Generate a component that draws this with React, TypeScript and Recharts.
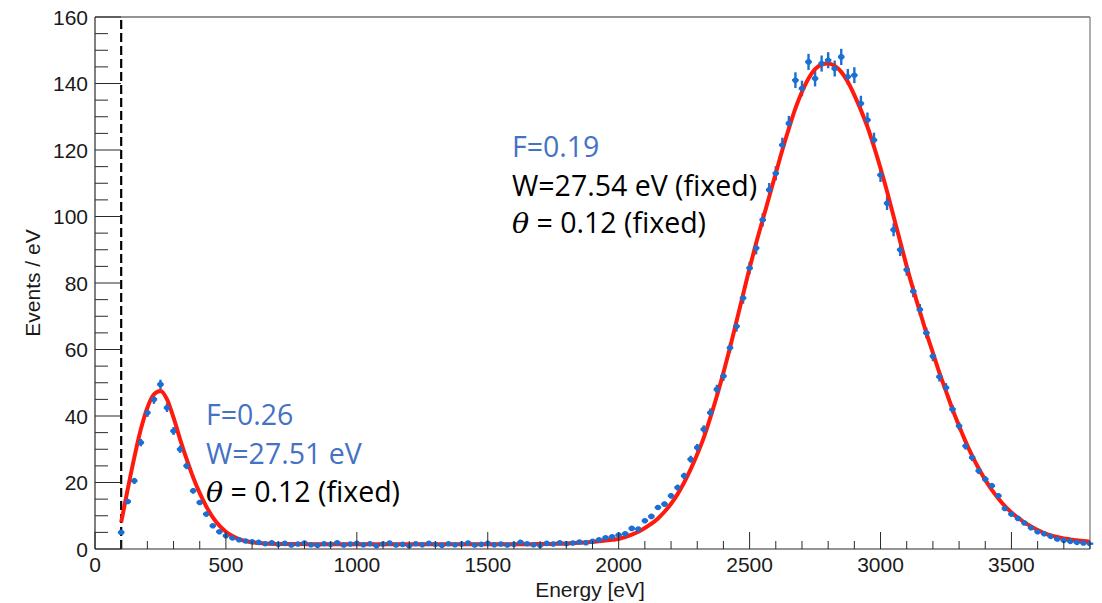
import React from 'react';
import { ComposedChart, Line, Scatter, XAxis, YAxis, ReferenceLine, ErrorBar } from 'recharts';

// Bin centres (eV)
const energy = [
  100, 125, 150, 175, 200, 225, 250, 275, 300, 325,
  350, 375, 400, 425, 450, 475, 500, 525, 550, 575,
  600, 625, 650, 675, 700, 725, 750, 775, 800, 825,
  850, 875, 900, 925, 950, 975, 1000, 1025, 1050, 1075,
  1100, 1125, 1150, 1175, 1200, 1225, 1250, 1275, 1300, 1325,
  1350, 1375, 1400, 1425, 1450, 1475, 1500, 1525, 1550, 1575,
  1600, 1625, 1650, 1675, 1700, 1725, 1750, 1775, 1800, 1825,
  1850, 1875, 1900, 1925, 1950, 1975, 2000, 2025, 2050, 2075,
  2100, 2125, 2150, 2175, 2200, 2225, 2250, 2275, 2300, 2325,
  2350, 2375, 2400, 2425, 2450, 2475, 2500, 2525, 2550, 2575,
  2600, 2625, 2650, 2675, 2700, 2725, 2750, 2775, 2800, 2825,
  2850, 2875, 2900, 2925, 2950, 2975, 3000, 3025, 3050, 3075,
  3100, 3125, 3150, 3175, 3200, 3225, 3250, 3275, 3300, 3325,
  3350, 3375, 3400, 3425, 3450, 3475, 3500, 3525, 3550, 3575,
  3600, 3625, 3650, 3675, 3700, 3725, 3750, 3775, 3800,
];

// Measured events / eV
const counts = [
  5.0, 14.3, 20.5, 32, 41, 45, 49.5, 42.5, 35.5, 30,
  25, 17.5, 14, 10.5, 7, 5.2, 4.0, 3.3, 2.8, 2.4,
  2.2, 2.0, 1.6, 1.9, 1.4, 1.7, 1.2, 1.5, 1.8, 1.3,
  1.1, 1.6, 1.4, 1.9, 1.2, 1.5, 1.7, 1.3, 1.6, 1.0,
  1.5, 1.8, 1.2, 1.4, 1.0, 1.6, 1.3, 1.7, 1.4, 1.1,
  1.6, 1.3, 1.5, 1.8, 1.2, 1.4, 1.7, 1.3, 1.5, 1.2,
  1.4, 2.0, 1.6, 1.3, 1.1, 1.7, 1.5, 1.9, 1.6, 1.8,
  2.1, 1.9, 2.3, 2.8, 3.4, 3.7, 4.2, 4.6, 6.2, 6.0,
  8.5, 9.8, 12.5, 13.5, 16, 18.5, 22, 27, 30.5, 36,
  41, 48, 52, 60.5, 67, 75.5, 84.5, 90.5, 99, 108,
  113, 121.5, 128, 141, 138.5, 146.5, 141.5, 146, 147, 144.5,
  148, 142, 142.5, 134, 129, 123, 112.5, 104, 96, 90,
  84, 77.5, 72, 65, 58, 51.8, 48.5, 42, 37, 31,
  27.5, 23.5, 21, 19, 16, 12.2, 10.5, 9.2, 7.8, 6.4,
  5.2, 4.6, 3.8, 3.0, 2.6, 2.3, 2.0, 1.8, 1.6,
];

// Statistical uncertainty on each bin
const countErr = [
  0.45, 0.76, 0.9, 1.13, 1.28, 1.34, 1.41, 1.3, 1.19, 1.1,
  1.0, 0.84, 0.75, 0.65, 0.53, 0.46, 0.4, 0.36, 0.33, 0.31,
  0.3, 0.28, 0.25, 0.28, 0.24, 0.26, 0.22, 0.24, 0.27, 0.23,
  0.21, 0.25, 0.24, 0.28, 0.22, 0.24, 0.26, 0.23, 0.25, 0.2,
  0.24, 0.27, 0.22, 0.24, 0.2, 0.25, 0.23, 0.26, 0.24, 0.21,
  0.25, 0.23, 0.24, 0.27, 0.22, 0.24, 0.26, 0.23, 0.24, 0.22,
  0.24, 0.28, 0.25, 0.23, 0.21, 0.26, 0.24, 0.28, 0.25, 0.27,
  0.29, 0.28, 0.3, 0.33, 0.37, 0.38, 0.41, 0.43, 0.5, 0.49,
  0.58, 0.63, 0.71, 0.73, 0.8, 0.86, 0.94, 1.04, 1.1, 1.2,
  1.28, 1.39, 1.44, 1.56, 1.64, 1.74, 1.84, 1.9, 1.99, 2.08,
  2.13, 2.2, 2.26, 2.37, 2.35, 2.42, 2.38, 2.42, 2.42, 2.4,
  2.43, 2.38, 2.39, 2.32, 2.27, 2.22, 2.12, 2.04, 1.96, 1.9,
  1.83, 1.76, 1.7, 1.61, 1.52, 1.44, 1.39, 1.3, 1.22, 1.11,
  1.05, 0.97, 0.92, 0.87, 0.8, 0.7, 0.65, 0.61, 0.56, 0.51,
  0.46, 0.43, 0.39, 0.35, 0.32, 0.3, 0.28, 0.27, 0.25,
];

// Fitted model curve
const fitValues = [
  8, 18, 27.5, 36, 42.5, 46.5, 47.5, 45, 39.5, 33,
  27, 21.5, 16.8, 12.8, 9.5, 7.0, 5.2, 3.9, 3.0, 2.4,
  2.0, 1.8, 1.65, 1.55, 1.5, 1.5, 1.5, 1.5, 1.45, 1.45,
  1.45, 1.45, 1.45, 1.45, 1.45, 1.45, 1.45, 1.45, 1.45, 1.45,
  1.45, 1.45, 1.45, 1.45, 1.45, 1.45, 1.45, 1.45, 1.45, 1.45,
  1.45, 1.45, 1.45, 1.45, 1.45, 1.45, 1.45, 1.45, 1.45, 1.45,
  1.45, 1.45, 1.45, 1.45, 1.5, 1.5, 1.55, 1.6, 1.65, 1.75,
  1.85, 2.0, 2.15, 2.35, 2.55, 2.75, 3.0, 3.6, 4.3, 5.2,
  6.3, 7.6, 9.2, 11.2, 13.6, 16.5, 20, 24, 28.5, 33.5,
  39.5, 46, 53, 60.5, 68.5, 76.5, 84.5, 92, 99, 106,
  113, 120, 126.5, 132.5, 137.5, 141.5, 144.3, 145.7, 146, 145.3,
  143.5, 140.5, 136.5, 132, 127, 121, 114.5, 107.5, 100, 92.5,
  85, 78, 71.5, 65, 59, 53, 47.5, 42, 37, 32.3,
  28, 24.2, 20.8, 17.8, 15.2, 12.9, 11, 9.4, 8, 6.8,
  5.7, 4.8, 4.1, 3.6, 3.2, 2.9, 2.6, 2.4, 2.2,
];

const binHalfWidth = 12.5;

const xTicks = [
  0, 100, 200, 300, 400, 500, 600, 700, 800, 900, 1000, 1100, 1200, 1300, 1400,
  1500, 1600, 1700, 1800, 1900, 2000, 2100, 2200, 2300, 2400, 2500, 2600, 2700,
  2800, 2900, 3000, 3100, 3200, 3300, 3400, 3500, 3600, 3700, 3800,
];
const yTicks = [
  0, 5, 10, 15, 20, 25, 30, 35, 40, 45, 50, 55, 60, 65, 70, 75, 80, 85, 90, 95,
  100, 105, 110, 115, 120, 125, 130, 135, 140, 145, 150, 155, 160,
];

const rows = energy.map((e, i) => ({
  e,
  v: counts[i],
  ey: countErr[i],
  ex: binHalfWidth,
  fit: fitValues[i],
}));

const AXIS_FONT = '"Liberation Sans", Arial, Helvetica, sans-serif';
const NOTE_FONT = '"Open Sans", "Noto Sans", sans-serif';
const AXIS_COLOR = '#2a2a2a';
const POINT_BLUE = '#1b6fd3';
const NOTE_BLUE = '#4472c4';
const FIT_RED = '#ff1a0d';

const XTick = (props: any) => {
  const { x, y, payload } = props;
  const major = payload.value % 500 === 0;
  return (
    <g>
      <line x1={x} x2={x} y1={y} y2={y - (major ? 17 : 8)} stroke={AXIS_COLOR} strokeWidth={1} />
      {major && (
        <text x={x} y={y + 23} textAnchor="middle" fontFamily={AXIS_FONT} fontSize={21} fill="#1a1a1a">
          {payload.value}
        </text>
      )}
    </g>
  );
};

const YTick = (props: any) => {
  const { x, y, payload } = props;
  const major = payload.value % 20 === 0;
  return (
    <g>
      <line x1={x} x2={x + (major ? 26 : 13)} y1={y} y2={y} stroke={AXIS_COLOR} strokeWidth={1} />
      {major && (
        <text x={x - 7} y={y + 7.5} textAnchor="end" fontFamily={AXIS_FONT} fontSize={21} fill="#1a1a1a">
          {payload.value}
        </text>
      )}
    </g>
  );
};

const PointShape = (p: any) => <circle cx={p.cx} cy={p.cy} r={2.8} fill={POINT_BLUE} />;

export default function App() {
  return (
    <div style={{ position: 'absolute', left: 0, top: 0, width: 1102, height: 603, background: '#fff' }}>
      <ComposedChart
        width={1102}
        height={603}
        data={rows}
        margin={{ top: 17, right: 12, bottom: 0, left: 0 }}
      >
        <XAxis
          type="number"
          dataKey="e"
          domain={[0, 3800]}
          ticks={xTicks}
          interval={0}
          height={54}
          tickSize={0}
          tickMargin={0}
          tick={<XTick />}
          axisLine={{ stroke: AXIS_COLOR, strokeWidth: 1.2 }}
          allowDataOverflow
        />
        <YAxis
          type="number"
          domain={[0, 160]}
          ticks={yTicks}
          interval={0}
          width={95}
          tickSize={0}
          tickMargin={0}
          tick={<YTick />}
          axisLine={{ stroke: AXIS_COLOR, strokeWidth: 1.2 }}
          allowDataOverflow
        />
        <ReferenceLine y={160} stroke={AXIS_COLOR} strokeWidth={1.2} />
        <ReferenceLine x={3800} stroke="#777" strokeWidth={1.2} />
        <ReferenceLine x={100} stroke="#000" strokeWidth={2.2} strokeDasharray="9 4" />
        <Scatter dataKey="v" isAnimationActive={false} shape={PointShape}>
          <ErrorBar dataKey="ey" direction="y" width={0} stroke={POINT_BLUE} strokeWidth={2.4} isAnimationActive={false} />
          <ErrorBar dataKey="ex" direction="x" width={0} stroke={POINT_BLUE} strokeWidth={2.4} isAnimationActive={false} />
        </Scatter>
        <Line
          dataKey="fit"
          type="monotone"
          stroke={FIT_RED}
          strokeWidth={4}
          dot={false}
          activeDot={false}
          isAnimationActive={false}
        />
      </ComposedChart>
      <svg
        width={1102}
        height={603}
        style={{ position: 'absolute', left: 0, top: 0, pointerEvents: 'none' }}
      >
        <text x={590} y={597} textAnchor="middle" fontFamily={AXIS_FONT} fontSize={21} fill="#1a1a1a">
          Energy [eV]
        </text>
        <text
          x={0}
          y={0}
          transform="translate(40 283) rotate(-90)"
          textAnchor="middle"
          fontFamily={AXIS_FONT}
          fontSize={21}
          fill="#1a1a1a"
        >
          Events / eV
        </text>

        <g fontFamily={NOTE_FONT} fontSize={28.5}>
          <text x={512} y={157} fill={NOTE_BLUE}>F=0.19</text>
          <text x={512} y={196} fill="#000">W=27.54 eV (fixed)</text>
          <text x={512} y={233} fill="#000">
            <tspan fontFamily='"DejaVu Serif", "Liberation Serif", serif' fontStyle="italic">θ</tspan> = 0.12 (fixed)
          </text>

          <text x={206} y={425} fill={NOTE_BLUE}>F=0.26</text>
          <text x={206} y={464} fill={NOTE_BLUE}>W=27.51 eV</text>
          <text x={206} y={502} fill="#000">
            <tspan fontFamily='"DejaVu Serif", "Liberation Serif", serif' fontStyle="italic">θ</tspan> = 0.12 (fixed)
          </text>
        </g>
      </svg>
    </div>
  );
}
